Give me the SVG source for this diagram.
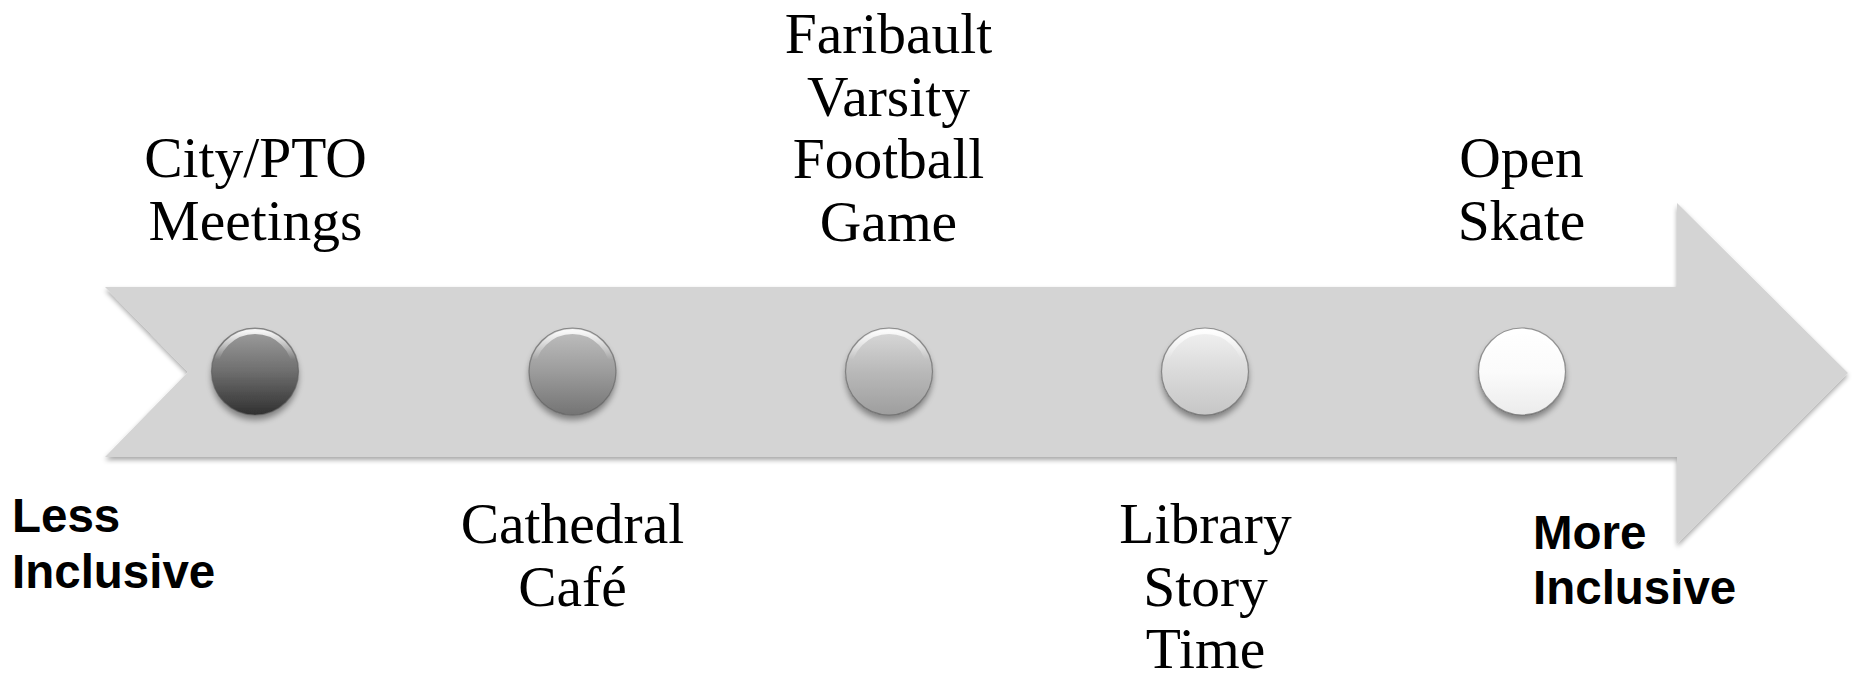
<svg xmlns="http://www.w3.org/2000/svg" width="1855" height="678" viewBox="0 0 1855 678">
<defs>
<style>
.lbl{font-family:"Liberation Serif","Times New Roman",serif;font-size:57.5px;fill:#000;text-anchor:middle}
.end{font-family:"Liberation Sans",Arial,sans-serif;font-size:47.5px;font-weight:bold;fill:#000}
.rim{fill:none;stroke:#5a5a5a;stroke-width:1.2;stroke-opacity:0.6}
.hl{fill:none;stroke:url(#hl);stroke-width:5}
</style>
<filter id="ash" x="-5%" y="-10%" width="110%" height="125%">
<feGaussianBlur in="SourceAlpha" stdDeviation="2.5"/>
<feOffset dx="0" dy="3" result="b"/>
<feComponentTransfer><feFuncA type="linear" slope="0.35"/></feComponentTransfer>
<feMerge><feMergeNode/><feMergeNode in="SourceGraphic"/></feMerge>
</filter>
<filter id="csh" x="-30%" y="-30%" width="160%" height="170%">
<feGaussianBlur in="SourceAlpha" stdDeviation="3"/>
<feOffset dx="0" dy="5" result="b"/>
<feComponentTransfer><feFuncA type="linear" slope="0.4"/></feComponentTransfer>
<feMerge><feMergeNode/><feMergeNode in="SourceGraphic"/></feMerge>
</filter>
<linearGradient id="g1" x1="0" y1="0" x2="0" y2="1">
<stop offset="0" stop-color="#a0a0a0"/><stop offset="0.5" stop-color="#6e6e6e"/><stop offset="1" stop-color="#303030"/>
</linearGradient>
<linearGradient id="g2" x1="0" y1="0" x2="0" y2="1">
<stop offset="0" stop-color="#c0c0c0"/><stop offset="0.5" stop-color="#9c9c9c"/><stop offset="1" stop-color="#747474"/>
</linearGradient>
<linearGradient id="g3" x1="0" y1="0" x2="0" y2="1">
<stop offset="0" stop-color="#dadada"/><stop offset="0.5" stop-color="#b9b9b9"/><stop offset="1" stop-color="#9e9e9e"/>
</linearGradient>
<linearGradient id="g4" x1="0" y1="0" x2="0" y2="1">
<stop offset="0" stop-color="#f2f2f2"/><stop offset="0.5" stop-color="#dadada"/><stop offset="1" stop-color="#c6c6c6"/>
</linearGradient>
<linearGradient id="g5" x1="0" y1="0" x2="0" y2="1">
<stop offset="0" stop-color="#ffffff"/><stop offset="0.5" stop-color="#fbfbfb"/><stop offset="1" stop-color="#ececec"/>
</linearGradient>
<linearGradient id="hl" x1="0" y1="0" x2="0" y2="1">
<stop offset="0" stop-color="#ffffff" stop-opacity="0.9"/><stop offset="0.35" stop-color="#ffffff" stop-opacity="0"/>
</linearGradient>
</defs>
<rect width="1855" height="678" fill="#ffffff"/>
<g id="arrow">
<path d="M105,287 L1677,287 L1677,203 L1848,373 L1677,544 L1677,457 L105,457 L188,372 Z" fill="#d4d4d4" filter="url(#ash)"/>
</g>
<g id="connectors"></g>
<g id="node1">
<circle cx="255" cy="371.5" r="43.5" fill="url(#g1)" filter="url(#csh)"/>
<circle class="hl" cx="255" cy="371.5" r="40"/>
<circle class="rim" cx="255" cy="371.5" r="43.5"/>
<text class="lbl" x="255.5" y="177">City/PTO</text>
<text class="lbl" x="255.5" y="240">Meetings</text>
</g>
<g id="node2">
<circle cx="572.5" cy="371.5" r="43.5" fill="url(#g2)" filter="url(#csh)"/>
<circle class="hl" cx="572.5" cy="371.5" r="40"/>
<circle class="rim" cx="572.5" cy="371.5" r="43.5"/>
<text class="lbl" x="572.5" y="543">Cathedral</text>
<text class="lbl" x="572.5" y="606">Café</text>
</g>
<g id="node3">
<circle cx="889" cy="371.5" r="43.5" fill="url(#g3)" filter="url(#csh)"/>
<circle class="hl" cx="889" cy="371.5" r="40"/>
<circle class="rim" cx="889" cy="371.5" r="43.5"/>
<text class="lbl" x="888.5" y="53">Faribault</text>
<text class="lbl" x="888.5" y="116">Varsity</text>
<text class="lbl" x="888.5" y="178">Football</text>
<text class="lbl" x="888.5" y="241">Game</text>
</g>
<g id="node4">
<circle cx="1205" cy="371.5" r="43.5" fill="url(#g4)" filter="url(#csh)"/>
<circle class="hl" cx="1205" cy="371.5" r="40"/>
<circle class="rim" cx="1205" cy="371.5" r="43.5"/>
<text class="lbl" x="1205.5" y="543">Library</text>
<text class="lbl" x="1205.5" y="606">Story</text>
<text class="lbl" x="1205.5" y="668">Time</text>
</g>
<g id="node5">
<circle cx="1522" cy="371.5" r="43.5" fill="url(#g5)" filter="url(#csh)"/>
<circle class="hl" cx="1522" cy="371.5" r="40"/>
<circle class="rim" cx="1522" cy="371.5" r="43.5"/>
<text class="lbl" x="1521.5" y="177">Open</text>
<text class="lbl" x="1521.5" y="240">Skate</text>
</g>
<g id="less">
<text class="end" x="12" y="532">Less</text>
<text class="end" x="12" y="588">Inclusive</text>
</g>
<g id="more">
<text class="end" x="1533" y="549">More</text>
<text class="end" x="1533" y="604">Inclusive</text>
</g>
</svg>
